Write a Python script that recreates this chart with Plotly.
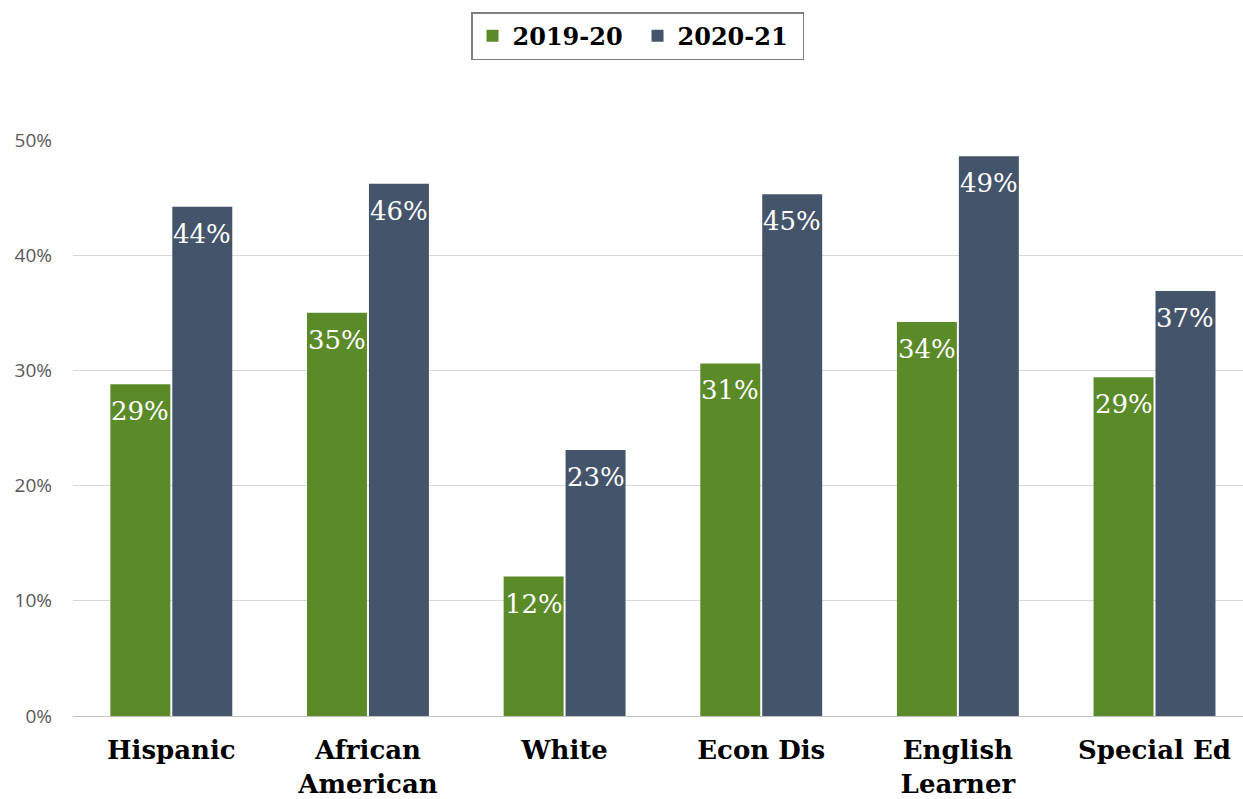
import plotly.graph_objects as go

# Student groups and share of students for each school year (percent)
categories = ["Hispanic", "African<br>American", "White", "Econ Dis", "English<br>Learner", "Special Ed"]
years = ["2019-20", "2020-21"]
share_2019_20 = [28.8, 35.0, 12.1, 30.6, 34.2, 29.4]
share_2020_21 = [44.2, 46.2, 23.1, 45.3, 48.6, 36.9]
y_ticks = [0, 10, 20, 30, 40, 50]
y_tick_labels = ["0%", "10%", "20%", "30%", "40%", "50%"]

colors = ["#5B8A29", "#44546A"]
series = [share_2019_20, share_2020_21]
bar_width = 0.305
offsets = [-0.31, 0.005]

x_pos = list(range(len(categories)))

fig = go.Figure()
for name, vals, col, off in zip(years, series, colors, offsets):
    fig.add_trace(go.Bar(
        name=name, x=x_pos, y=vals, width=bar_width, offset=off,
        marker=dict(color=col, line=dict(width=0)),
        hoverinfo="skip",
    ))

# value labels just inside the top of each bar
annotations = []
for vals, off in zip(series, offsets):
    for xi, v in zip(x_pos, vals):
        annotations.append(dict(
            x=xi + off + bar_width / 2, y=v, xref="x", yref="y",
            text=f"{v:.0f}%", showarrow=False, yanchor="top", yshift=-10,
            font=dict(family="DejaVu Serif", size=26, color="white"),
        ))

fig.update_layout(
    width=1243, height=799,
    margin=dict(l=73, r=0, t=140, b=83),
    paper_bgcolor="white", plot_bgcolor="white",
    annotations=annotations,
    legend=dict(
        orientation="h", x=0.4825, xanchor="center", y=1.222, yanchor="top",
        font=dict(family="DejaVu Serif", size=24, color="black", weight="bold"),
        bordercolor="#7F7F7F", borderwidth=1.5, bgcolor="white",
        itemwidth=30, entrywidth=120,
    ),
    xaxis=dict(
        range=[-0.5, 5.45], tickvals=x_pos, ticktext=[f"<b>{c}</b>" for c in categories],
        tickfont=dict(family="DejaVu Serif", size=26, color="black"),
        showgrid=False, showline=True, linecolor="#BFBFBF", linewidth=1,
        ticks="outside", ticklen=11, tickcolor="rgba(0,0,0,0)",
    ),
    yaxis=dict(
        range=[0, 50], tickvals=y_ticks, ticktext=y_tick_labels,
        tickfont=dict(family="Open Sans", size=19, color="#595959"),
        showgrid=True, gridcolor="#D9D9D9", gridwidth=1,
        zeroline=False, showline=False,
        ticklabelstandoff=20,
    ),
    showlegend=True,
)

fig.write_html("out.html")
